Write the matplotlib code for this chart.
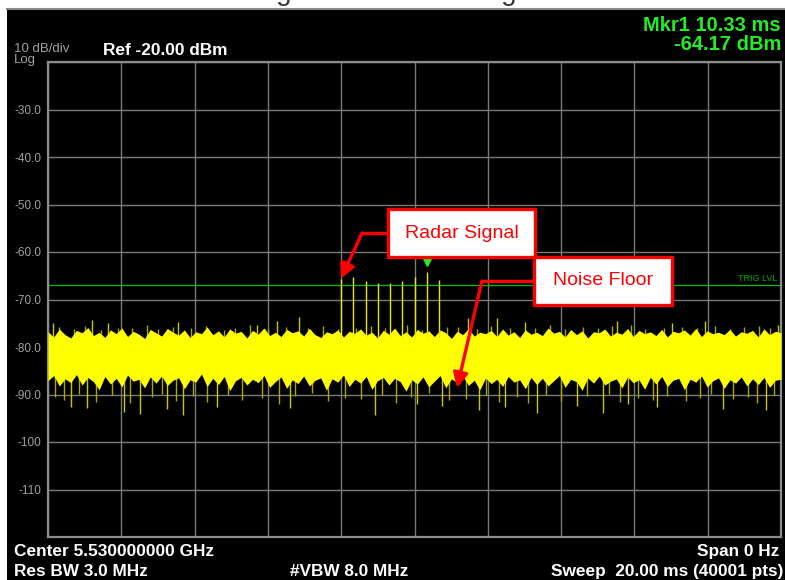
import numpy as np
import matplotlib
matplotlib.use('Agg')
import matplotlib.pyplot as plt
from matplotlib.transforms import offset_copy

plt.rcParams['font.family'] = ['Liberation Sans', 'DejaVu Sans']

sweep_ms = 20.0
ref_level = -20.0
bottom_level = -120.0

# upper / lower edge of the noise band (evenly spread over the sweep)
noise_hi = [
    -76.8, -77.9, -76.2, -77.4, -78.1, -76.5, -77.0, -75.9, -77.6, -76.9, -78.0, -76.4, -77.2, -76.0, -77.8, -76.7, -77.3, -78.2, -76.3, -77.0,
    -77.7, -76.1, -76.9, -77.5, -76.4, -78.0, -76.8, -77.2, -75.8, -77.4, -76.6, -77.9, -76.2, -77.1, -76.7, -78.1, -76.5, -77.3, -76.0, -77.6,
    -76.9, -77.8, -76.3, -77.0, -76.6, -77.7, -76.1, -77.4, -78.0, -76.8, -77.2, -76.4, -77.9, -76.7, -77.1, -76.2, -77.5, -76.9, -78.1, -76.5,
    -77.3, -76.0, -77.6, -76.8, -77.9, -76.3, -77.1, -76.6, -77.8, -76.4, -77.0, -78.2, -76.7, -77.4, -76.1, -77.7, -76.9, -77.2, -76.5, -77.8,
    -76.2, -77.5, -76.8, -78.0, -76.4, -77.3, -76.9, -77.6, -76.0, -77.1, -76.7, -77.9, -76.3, -77.4, -76.6, -78.1, -76.8, -77.0, -76.2, -77.7,
    -76.9, -77.3, -76.1, -77.8, -76.5, -77.2, -76.8, -77.6, -76.3, -77.9, -76.7, -77.0, -76.4, -77.5, -76.1, -77.8, -76.6, -77.2, -76.9, -77.4,
    -76.3, -77.7, -76.8, -77.1, -76.5, -77.9, -76.2, -77.4, -76.7, -77.0,
]
noise_lo = [
    -87.1, -86.0, -88.2, -86.7, -87.5, -85.8, -88.0, -86.4, -87.3, -89.0, -86.2, -87.8, -86.6, -88.4, -85.9, -87.2, -86.8, -88.6, -86.3, -87.6,
    -86.1, -88.1, -87.0, -86.5, -88.8, -86.9, -87.4, -85.7, -88.3, -86.6, -87.9, -86.2, -89.2, -87.1, -86.4, -88.0, -86.8, -87.5, -86.0, -88.5,
    -87.3, -86.3, -88.7, -86.9, -87.7, -86.1, -88.2, -87.0, -86.5, -89.1, -86.7, -87.4, -85.9, -88.3, -86.8, -87.6, -86.2, -88.9, -87.1, -86.4,
    -88.0, -86.6, -87.3, -89.3, -86.9, -87.8, -86.3, -88.4, -87.2, -86.0, -88.6, -86.7, -87.5, -86.1, -88.1, -87.0, -89.0, -86.5, -87.7, -86.8,
    -88.3, -86.2, -87.4, -86.9, -88.8, -86.4, -87.9, -86.6, -88.2, -87.1, -86.0, -88.5, -86.8, -87.3, -89.1, -86.5, -87.6, -86.1, -88.0, -87.2,
    -86.7, -88.6, -86.3, -87.5, -86.9, -88.9, -86.4, -87.8, -86.2, -88.3, -87.0, -86.6, -89.0, -86.8, -87.4, -86.1, -88.4, -87.1, -86.5, -88.7,
    -86.9, -87.6, -86.3, -88.2, -86.7, -87.9, -86.4, -88.5, -87.0, -86.8,
]

# medium spikes along both edges of the band
edge_up_t = [0.3, 0.7, 1.0, 1.45, 1.9, 2.3, 2.7, 3.0, 3.4, 3.9, 4.3, 4.8, 5.1, 5.5, 6.0, 6.5, 7.1, 7.5, 7.9, 8.4, 8.8, 9.2,
             9.8, 10.2, 10.9, 11.2, 11.7, 12.1, 12.6, 13.3, 13.7, 14.1, 14.6, 15.0, 15.4, 15.9, 16.3, 16.8, 17.3, 17.7,
             18.2, 18.6, 19.0, 19.4, 19.7]
edge_up_v = [-75.8, -76.2, -75.5, -76.4, -75.9, -76.0, -75.4, -76.3, -75.7, -76.1, -75.6, -76.5, -75.9, -75.3, -76.2,
             -75.8, -76.0, -75.5, -76.3, -75.9, -75.6, -76.1, -75.4, -76.4, -75.8, -75.7, -76.2, -75.5, -76.0, -75.9,
             -75.3, -76.3, -75.8, -76.1, -75.6, -75.4, -76.2, -75.9, -75.7, -76.0, -75.5, -76.3, -75.8, -75.6, -76.1]
edge_dn_t = [0.2, 0.45, 0.85, 1.3, 1.75, 2.25, 2.85, 3.1, 3.5, 3.95, 4.35, 4.9, 5.3, 5.85, 6.3, 6.75, 7.2, 7.65, 8.1, 8.55,
             9.1, 9.5, 9.9, 10.4, 10.95, 11.4, 11.95, 12.3, 12.8, 13.1, 13.6, 14.0, 14.7, 15.3, 15.6, 16.1, 16.5, 16.9,
             17.4, 17.8, 18.1, 18.7, 19.1, 19.35, 19.8]
edge_dn_v = [-90.5, -91.2, -89.8, -91.5, -90.2, -91.8, -90.6, -89.9, -91.3, -90.4, -91.6, -90.0, -91.1, -90.7, -91.9,
             -90.3, -89.7, -91.4, -90.8, -91.0, -90.1, -91.7, -90.5, -89.6, -91.2, -90.9, -90.2, -91.5, -90.6, -91.8,
             -90.0, -91.3, -90.4, -89.9, -91.6, -90.7, -91.1, -90.3, -91.4, -90.8, -89.8, -91.0, -90.5, -91.7, -90.2]

# isolated large spikes
spike_up_t = [0.14, 1.20, 1.64, 3.55, 5.70, 6.25, 6.85, 11.46, 12.25, 13.02, 15.53, 17.03, 17.93, 19.92]
spike_up_v = [-75.0, -74.3, -74.9, -74.7, -75.4, -74.6, -73.6, -73.9, -73.9, -74.8, -74.5, -74.9, -74.6, -75.3]
spike_dn_t = [0.63, 1.06, 2.07, 2.51, 3.25, 3.68, 4.61, 6.60, 8.92, 10.07, 10.75, 11.76, 12.47, 13.34,
              14.43, 15.14, 15.82, 16.62, 18.42, 19.59]
spike_dn_v = [-92.6, -92.8, -93.6, -94.1, -93.0, -94.3, -92.6, -92.9, -94.3, -92.1, -92.4, -93.3, -92.7, -93.9,
              -92.5, -93.9, -92.1, -92.7, -93.1, -93.2]

# radar burst pulses
pulse_t = [8.00, 8.33, 8.67, 9.00, 9.33, 9.67, 10.00, 10.33, 10.67]
pulse_v = [-65.7, -65.2, -66.2, -66.6, -66.5, -66.0, -65.2, -64.17, -65.8]

trig_level = -67.0
mkr_t, mkr_v = 10.33, -64.17

ytick_vals = [-120, -110, -100, -90, -80, -70, -60, -50, -40, -30, -20]
ytick_lbls = ['', '-110', '-100', '-90.0', '-80.0', '-70.0', '-60.0', '-50.0', '-40.0', '-30.0', '']

W, H = 785, 580
fig = plt.figure(figsize=(W / 100, H / 100), dpi=100, facecolor='white')

# title, mostly cut off above the instrument screen
fig.text(395 / W, 1.0, 'Single Burst Radar Signal', ha='center', va='baseline',
         fontsize=20, color='#333333', zorder=0)

# black instrument screen
bg = fig.add_axes([7 / W, 0, 1 - 7 / W, (H - 9) / H], zorder=1)
bg.set_facecolor('black')
bg.set_xticks([])
bg.set_yticks([])
for s in ['left', 'bottom', 'right']:
    bg.spines[s].set_visible(False)
bg.spines['top'].set_color('#888888')
bg.spines['top'].set_linewidth(1.5)

ax = fig.add_axes([48 / W, 43 / H, 733 / W, 475 / H], zorder=2)
ax.set_facecolor('black')
ax.set_xlim(0, sweep_ms)
ax.set_ylim(bottom_level, ref_level)
ax.set_xticks(np.arange(0, sweep_ms + 0.1, 2))
ax.set_xticklabels([])
ax.set_yticks(ytick_vals)
ax.set_yticklabels(ytick_lbls)
ax.tick_params(length=0, labelsize=8.5, labelcolor='#a0a0a0', pad=5)
ax.grid(True, color='#7a7a7a', lw=1.0)
for s in ax.spines.values():
    s.set_color('#8c8c8c')
    s.set_linewidth(1.6)

# noise floor
t_noise = np.linspace(0, sweep_ms, len(noise_hi))
ax.vlines(edge_up_t, -80, edge_up_v, color='#a8a800', lw=1, zorder=2.8)
ax.vlines(edge_dn_t, -84, edge_dn_v, color='#a8a800', lw=1, zorder=2.8)
ax.fill_between(t_noise, noise_lo, noise_hi, color='#ffff00', lw=0, zorder=3)
ax.vlines(spike_up_t, -80, spike_up_v, color='#c8c800', lw=1, zorder=2.9)
ax.vlines(spike_dn_t, -84, spike_dn_v, color='#c8c800', lw=1, zorder=2.9)

# pulses
ax.vlines(pulse_t, -78, pulse_v, color='#e8e800', lw=1, zorder=3)

# trigger level
ax.axhline(trig_level, color='#00c000', lw=0.9, zorder=2.5)
ax.text(19.9, trig_level + 0.4, 'TRIG LVL', color='#00b000', fontsize=6.5,
        ha='right', va='bottom')

# marker
ax.plot(mkr_t, mkr_v, marker='v', color='#22ee22', ms=10, mec='#22ee22', zorder=5,
        transform=offset_copy(ax.transData, fig=fig, x=0, y=9, units='points'))

# callouts
def callout(txt, x0, x1, y0, y1, path):
    ax.add_patch(plt.Rectangle((x0, y1), x1 - x0, y0 - y1, facecolor='white',
                               edgecolor='red', lw=2.4, zorder=6))
    ax.text((x0 + x1) / 2, (y0 + y1) / 2, txt, color='red', fontsize=14,
            ha='center', va='center', zorder=7)
    xs = [p[0] for p in path[:-1]]
    ys = [p[1] for p in path[:-1]]
    ax.plot(xs, ys, color='red', lw=2.4, solid_capstyle='butt', zorder=6)
    ax.annotate('', xy=path[-1], xytext=path[-2],
                arrowprops=dict(arrowstyle='-|>', color='red', lw=2.4,
                                mutation_scale=22, shrinkA=0, shrinkB=0), zorder=6)

callout('Radar Signal', 9.28, 13.29, -50.95, -61.05,
        [(9.28, -56.0), (8.57, -56.0), (7.99, -65.6)])
callout('Noise Floor', 13.26, 17.03, -61.05, -71.16,
        [(13.26, -66.1), (11.84, -66.1), (11.16, -88.6)])

# screen annotations (pixel positions)
def scr(x, y, s, **kw):
    fig.text(x / W, 1 - y / H, s, zorder=4, **kw)

big = dict(color='white', fontsize=12.4, fontweight='bold', va='baseline')
scr(14, 52, '10 dB/div', color='#a0a0a0', fontsize=9.5, va='baseline')
scr(14, 63, 'Log', color='#a0a0a0', fontsize=9.5, va='baseline')
scr(103, 55, 'Ref -20.00 dBm', **big)
scr(781, 31, 'Mkr1 10.33 ms', color='#22ee22', fontsize=14.5, fontweight='bold',
    va='baseline', ha='right')
scr(781, 50, '-64.17 dBm', color='#22ee22', fontsize=14.5, fontweight='bold',
    va='baseline', ha='right')
scr(14, 556, 'Center 5.530000000 GHz', **big)
scr(14, 576, 'Res BW 3.0 MHz', **big)
scr(290, 576, '#VBW 8.0 MHz', **big)
scr(779, 556, 'Span 0 Hz', ha='right', **big)
scr(783, 576, 'Sweep  20.00 ms (40001 pts)', ha='right', **big)

fig.savefig('out.png', dpi=100, facecolor='white')
